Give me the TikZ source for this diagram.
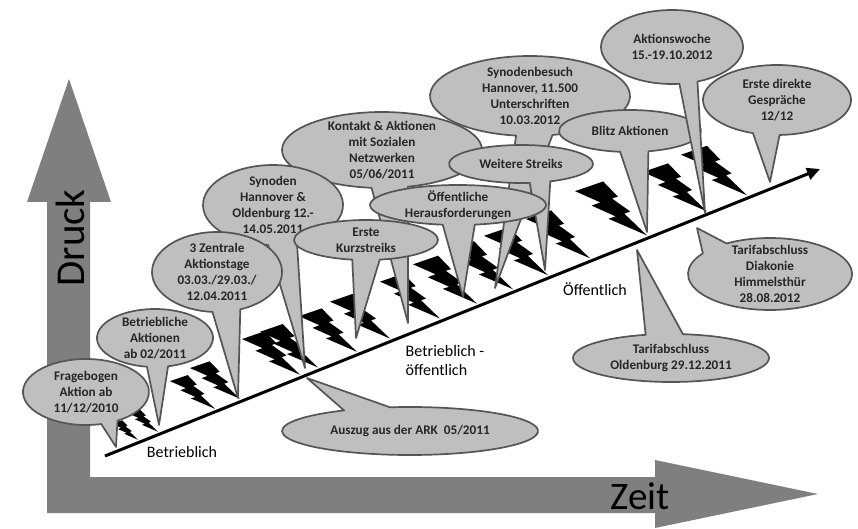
\documentclass[tikz,border=0pt]{standalone}
\usepackage{fontspec}
\setmainfont{Carlito}
\usetikzlibrary{calc, arrows.meta}

\definecolor{axisgray}{RGB}{127,127,127}
\definecolor{bubblefill}{RGB}{191,191,191}
\definecolor{bubbleedge}{RGB}{85,85,85}

\tikzset{
  bolt/.pic={\fill[black] (-0.608,-1) -- (-0.405,-0.719) -- (-0.488,-0.685) -- (-0.233,-0.444) -- (-0.316,-0.404) -- (0,0) -- (-0.536,-0.309) -- (-0.434,-0.352) -- (-0.768,-0.551) -- (-0.648,-0.612) -- (-1,-0.82) -- cycle;},
  bubble/.style={fill=bubblefill, draw=bubbleedge, line width=1.7pt, line join=round},
  bubbletext/.style={font=\bfseries\fontsize{13.2}{16}\selectfont, text=black!85, align=center, inner sep=0pt},
  phase/.style={font=\fontsize{16}{19}\selectfont, align=left}
}

% name, centre, x radius, y radius, wedge from, wedge to, tip, text
\newcommand{\bubble}[8]{%
  \coordinate (#1) at #2;
  \coordinate (#1-tip) at #7;
  \draw[bubble] ($(#1)+(#6:#3 and #4)$) arc[start angle=#6, end angle=#5+360, x radius=#3, y radius=#4] -- (#1-tip) -- cycle;
  \node[bubbletext] (#1-text) at (#1) {#8};
}

\begin{document}
\begin{tikzpicture}[x=1pt, y=-1pt]
  \useasboundingbox (0,0) rectangle (858,529);

  % axes
  \fill[axisgray] (27,202) -- (69,79) -- (111,202) -- (90,202) -- (90,477) -- (655,477) -- (655,460) -- (818,494) -- (655,528) -- (655,513) -- (47,513) -- (47,202) -- cycle;
  \node[font=\fontsize{41}{41}\selectfont, rotate=90] (druck) at (70,238) {Druck};
  \node[font=\fontsize{39}{39}\selectfont] (zeit) at (640,496) {Zeit};

  % bolts along the line
  \coordinate (line-start) at (105,456);
  \coordinate (line-end) at (820,169);
  \foreach \x/\s in {138/26, 158/30, 215/45, 240/50, 300/58, 318/58, 357/58, 390/60, 440/60, 477/64, 513/64, 548/64, 590/64, 647/72, 707/64, 747/66}
    \pic[xscale=\s, yscale=0.75*\s] at ({\x}, {456-0.4014*(\x-105)-3}) {bolt};
  \draw[line width=3pt, -{Triangle[length=13pt, width=12pt]}] (line-start) -- (line-end);

  \node[phase] (betrieblich) at (182,452) {Betrieblich};
  \node[phase] (mitte) at (445,361) {Betrieblich -\\öffentlich};
  \node[phase] (oeffentlich) at (595,289) {Öffentlich};

  % callouts
  \bubble{kontakt}{(382,150)}{100}{38}{75}{96}{(408,323)}{Kontakt \& Aktionen\\mit Sozialen\\Netzwerken\\05/06/2011}
  \bubble{synodenbesuch}{(530,96)}{100}{40}{77}{98}{(495,288)}{Synodenbesuch\\Hannover, 11.500\\Unterschriften\\10.03.2012}
  \bubble{blitz}{(630,131)}{71}{21}{75}{98}{(647,232)}{Blitz Aktionen}
  \bubble{weitere}{(521,164)}{72}{19}{66}{83}{(545,270)}{Weitere Streiks}
  \bubble{oeffentliche}{(458,205)}{88}{20}{79}{100}{(463,297)}{Öffentliche\\Herausforderungen}
  \bubble{synoden}{(273,205)}{70}{40}{70}{94}{(305,368)}{Synoden\\Hannover \&\\Oldenburg 12.-\\14.05.2011}
  \bubble{zentrale}{(217,272)}{65}{40}{69}{94}{(238,398)}{3 Zentrale\\Aktionstage\\03.03./29.03./\\12.04.2011}
  \bubble{kurzstreiks}{(366,240)}{72}{20}{79}{101}{(356,338)}{Erste\\Kurzstreiks}
  \bubble{betriebliche}{(155,338)}{58}{29}{77}{98}{(159,425)}{Betriebliche\\Aktionen\\ab 02/2011}
  \bubble{fragebogen}{(86,392)}{63}{33}{60}{76}{(116,447)}{Fragebogen\\Aktion ab\\11/12/2010}
  \bubble{aktionswoche}{(672,47)}{71}{37}{69}{84}{(705,213)}{Aktionswoche\\15.-19.10.2012}
  \bubble{gespraeche}{(777,100)}{74}{35}{88}{109}{(770,182)}{Erste direkte\\Gespräche\\12/12}
  \bubble{diakonie}{(770,274)}{82}{36}{215}{238}{(697,228)}{Tarifabschluss\\Diakonie\\Himmelsthür\\28.08.2012}
  \bubble{oldenburg}{(671,358)}{98}{24}{255}{277}{(637,250)}{Tarifabschluss\\Oldenburg 29.12.2011}
  \bubble{ark}{(410,431)}{128}{24}{239}{261}{(307,378)}{Auszug aus der ARK\ \ 05/2011}
\end{tikzpicture}
\end{document}
